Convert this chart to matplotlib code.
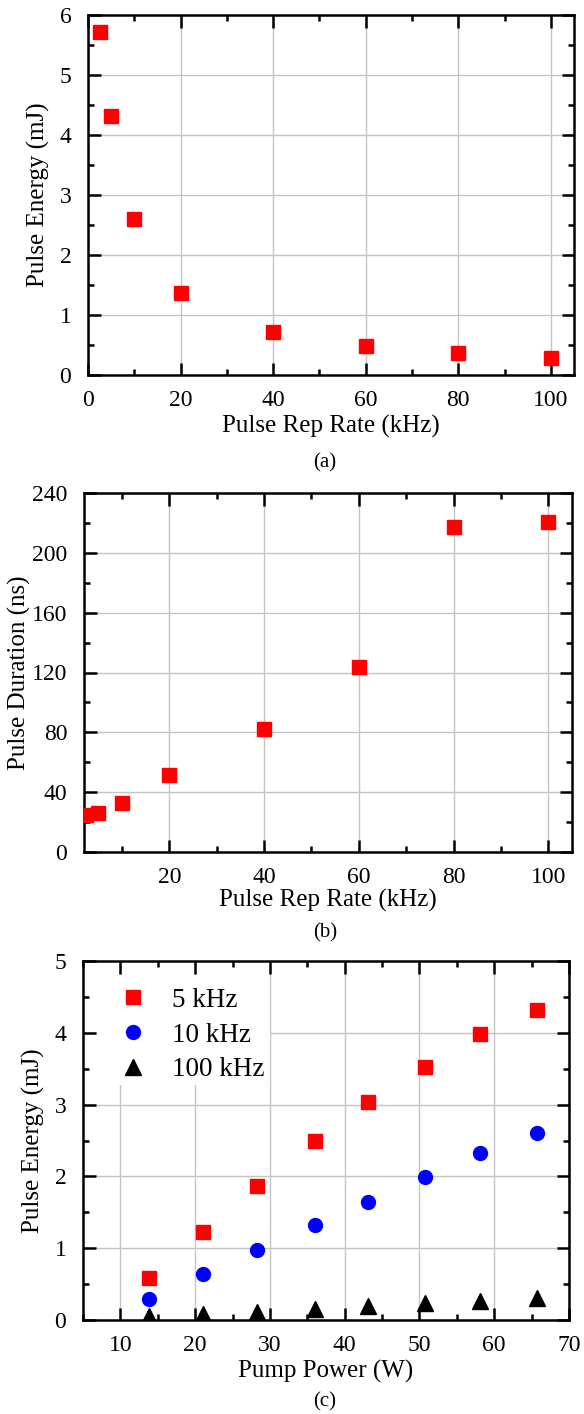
import matplotlib
matplotlib.use("Agg")
import matplotlib.pyplot as plt
from matplotlib.ticker import MultipleLocator
from matplotlib.patches import Rectangle

plt.rcParams['font.family'] = ['Liberation Serif', 'DejaVu Serif']

# ---- data ----
rep_rate_khz = [2.5, 5, 10, 20, 40, 60, 80, 100]
pulse_energy_mj = [5.71, 4.32, 2.60, 1.36, 0.71, 0.48, 0.37, 0.29]
pulse_duration_ns = [24.5, 25.8, 32.5, 51.8, 82.5, 123.8, 217.5, 220.8]

pump_power_w = [13.8, 21.0, 28.3, 36.0, 43.1, 50.8, 58.1, 65.7]
energy_5khz = [0.58, 1.22, 1.87, 2.50, 3.04, 3.53, 3.99, 4.32]
energy_10khz = [0.29, 0.635, 0.97, 1.32, 1.65, 1.99, 2.32, 2.60]
energy_100khz = [0.05, 0.08, 0.11, 0.15, 0.19, 0.23, 0.26, 0.30]

series_labels = ['5 kHz', '10 kHz', '100 kHz']
captions = ['(a)', '(b)', '(c)']

W, H = 584, 1414
fig = plt.figure(figsize=(W / 100, H / 100), dpi=100)


def add_ax(l, r, t, b):
    return fig.add_axes([l / W, 1 - b / H, (r - l) / W, (b - t) / H])


TICK_FS = 17
LABEL_FS = 18
GRID_C = '#c4c4c4'


def style(ax, xmaj, xmin, ymaj, ymin):
    ax.xaxis.set_major_locator(MultipleLocator(xmaj))
    ax.xaxis.set_minor_locator(MultipleLocator(xmin))
    ax.yaxis.set_major_locator(MultipleLocator(ymaj))
    ax.yaxis.set_minor_locator(MultipleLocator(ymin))
    ax.tick_params(which='both', direction='in', top=True, right=True,
                   width=1.8, labelsize=TICK_FS)
    ax.tick_params(which='major', length=9)
    ax.tick_params(which='minor', length=4.5)
    ax.tick_params(axis='x', which='major', pad=11)
    ax.tick_params(axis='y', which='major', pad=12)
    for s in ax.spines.values():
        s.set_linewidth(1.8)
    ax.grid(True, which='major', color=GRID_C, linewidth=1.0)


# ---- (a) ----
ax1 = add_ax(88, 574, 15, 375)
ax1.plot(rep_rate_khz, pulse_energy_mj, linestyle='none', marker='s',
         markersize=9.5, color='#ff0000', zorder=3)
ax1.set_xlim(0, 105)
ax1.set_ylim(0, 6)
style(ax1, 20, 10, 1, 0.5)
ax1.set_xlabel('Pulse Rep Rate (kHz)', fontsize=LABEL_FS)
ax1.set_ylabel('Pulse Energy (mJ)', fontsize=LABEL_FS)
ax1.xaxis.set_label_coords(0.5, -0.111)
ax1.yaxis.set_label_coords(-0.078, 0.5)

# ---- (b) ----
ax2 = add_ax(84, 572, 493, 852)
ax2.plot(rep_rate_khz, pulse_duration_ns, linestyle='none', marker='s',
         markersize=9.5, color='#ff0000', zorder=3)
ax2.set_xlim(2, 105)
ax2.set_ylim(0, 240)
style(ax2, 20, 10, 40, 20)
ax2.set_xlabel('Pulse Rep Rate (kHz)', fontsize=LABEL_FS)
ax2.set_ylabel('Pulse Duration (ns)', fontsize=LABEL_FS)
ax2.xaxis.set_label_coords(0.5, -0.104)
ax2.yaxis.set_label_coords(-0.108, 0.5)

# ---- (c) ----
ax3 = add_ax(83, 569, 961, 1320)
ax3.plot(pump_power_w, energy_5khz, linestyle='none', marker='s',
         markersize=9.5, color='#ff0000', label=series_labels[0], zorder=3)
ax3.plot(pump_power_w, energy_10khz, linestyle='none', marker='o',
         markersize=10, color='#0000ff', label=series_labels[1], zorder=3)
ax3.plot(pump_power_w, energy_100khz, linestyle='none', marker='^',
         markersize=11, color='black', label=series_labels[2], zorder=3)
ax3.set_xlim(5, 70)
ax3.set_ylim(0, 5)
style(ax3, 10, 5, 1, 0.5)
ax3.set_xlabel('Pump Power (W)', fontsize=LABEL_FS)
ax3.set_ylabel('Pulse Energy (mJ)', fontsize=LABEL_FS)
ax3.xaxis.set_label_coords(0.5, -0.110)
ax3.yaxis.set_label_coords(-0.078, 0.5)

# white legend background covering grid lines
ax3.add_patch(Rectangle((0.029, 0.655), 0.356, 0.306, transform=ax3.transAxes,
                        facecolor='white', edgecolor='none', zorder=1.7))
ax3.legend(loc='upper left', bbox_to_anchor=(0.075, 0.925), frameon=False,
           borderaxespad=0, borderpad=0, handlelength=1.0,
           handletextpad=0.94, labelspacing=0.36, fontsize=19.5,
           numpoints=1)

# captions
fig.text(325 / W, 1 - 463 / H, captions[0], ha='center', va='center', fontsize=15)
fig.text(325 / W, 1 - 933 / H, captions[1], ha='center', va='center', fontsize=15)
fig.text(325 / W, 1 - 1402 / H, captions[2], ha='center', va='center', fontsize=15)

fig.savefig('out.png', dpi=100)
